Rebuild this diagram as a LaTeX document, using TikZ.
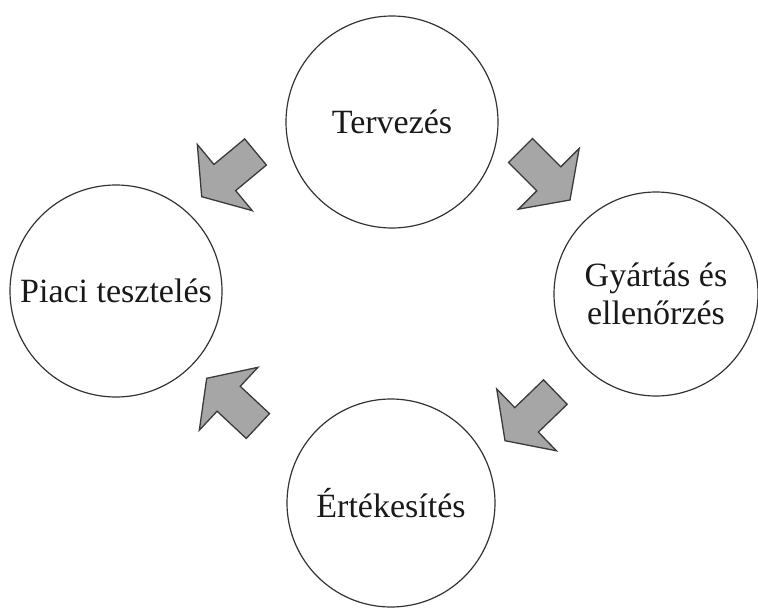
\documentclass[tikz,border=0pt]{standalone}
\usepackage{fontspec}
\setmainfont{Liberation Serif}
\definecolor{arrowfill}{HTML}{A6A6A6}
\definecolor{arrowline}{HTML}{3A3A3A}
\definecolor{circline}{HTML}{333333}
\begin{document}
\begin{tikzpicture}[x=1pt,y=1pt,
  circ/.style={circle, draw=circline, line width=1.2pt, inner sep=0pt, align=center,
    font=\fontsize{34}{38}\selectfont, text=black!90},
  arrowstyle/.style={fill=arrowfill, draw=arrowline, line width=1.3pt, line join=miter},
  blockarrow/.pic={\draw[arrowstyle] (0,0) -- (-30,43) -- (-30,17) -- (-70,17) -- (-70,-17) -- (-30,-17) -- (-30,-43) -- cycle;}
]
\useasboundingbox (0,0) rectangle (758,-608);
\node[circ, minimum size=212pt] (terv) at (392,-122) {Tervezés};
\node[circ, minimum size=204pt] (gyart) at (656,-294) {Gyártás és\\ellenőrzés};
\node[circ, minimum size=208pt] (ert) at (391,-503) {Értékesítés};
\node[circ, minimum size=212pt] (piaci) at (116,-291) {Piaci tesztelés};
\pic (a1) [rotate=219.7] at (201.7,-196.7) {blockarrow};
\pic (a2) [rotate=-45] at (570,-200) {blockarrow};
\pic (a3) [rotate=224] at (505,-440.7) {blockarrow};
\pic (a4) [rotate=137] at (206.7,-378.3) {blockarrow};
\end{tikzpicture}
\end{document}
